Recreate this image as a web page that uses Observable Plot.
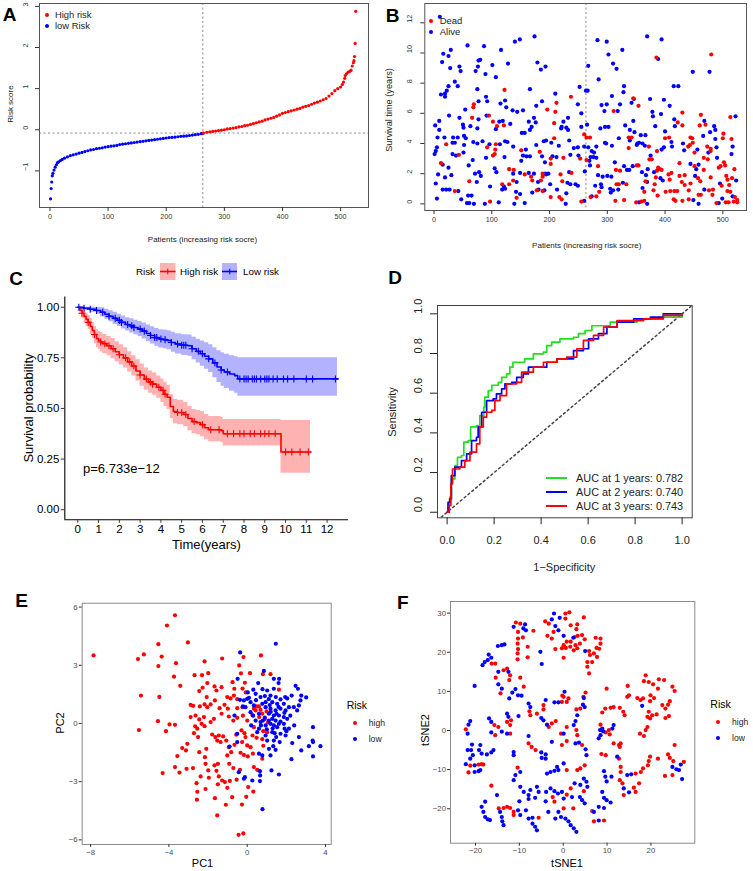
<!DOCTYPE html>
<html><head><meta charset="utf-8">
<script src="https://cdn.jsdelivr.net/npm/d3@7"></script>
<script src="https://cdn.jsdelivr.net/npm/@observablehq/plot@0.6"></script>
<style>
body{margin:0;background:#fff;}
#fig{position:relative;width:753px;height:871px;overflow:hidden;background:#fff;}
</style></head><body><div id="fig"></div>
<script>
// ---------- Panel A: risk score by patient ----------
const riskIdx = [1,2,3,4,5,7,9,11,13,15,18,21,25,30,35,40,45,50,55,60,65,70,75,80,85,90,95,100,105,110,115,120,125,130,135,140,145,150,155,160,165,170,175,180,185,190,195,200,205,210,215,220,225,230,235,240,245,250,255,260,263,
264,270,275,280,285,290,295,300,305,310,315,320,325,330,335,340,345,350,355,360,365,370,375,380,385,390,395,400,405,410,415,420,425,430,435,440,445,450,455,460,465,470,475,480,485,490,495,500,503,505,507,508,510,513,516,518,520,522,523,524,525,526];
const riskScore = [-1.68,-1.43,-1.27,-1.12,-1.06,-0.98,-0.91,-0.85,-0.80,-0.78,-0.75,-0.72,-0.69,-0.66,-0.63,-0.61,-0.59,-0.57,-0.55,-0.53,-0.51,-0.49,-0.48,-0.46,-0.45,-0.44,-0.42,-0.41,-0.40,-0.39,-0.38,-0.36,-0.35,-0.34,-0.33,-0.32,-0.31,-0.30,-0.29,-0.28,-0.27,-0.26,-0.25,-0.24,-0.23,-0.22,-0.21,-0.20,-0.19,-0.185,-0.18,-0.17,-0.16,-0.155,-0.15,-0.14,-0.13,-0.12,-0.11,-0.095,-0.085,
-0.08,-0.06,-0.05,-0.04,-0.03,-0.02,-0.01,0.00,0.02,0.03,0.04,0.05,0.07,0.08,0.10,0.11,0.13,0.15,0.17,0.19,0.21,0.24,0.26,0.28,0.30,0.33,0.36,0.40,0.42,0.44,0.46,0.48,0.50,0.52,0.55,0.57,0.59,0.62,0.65,0.67,0.70,0.73,0.76,0.82,0.88,0.95,1.00,1.04,1.10,1.16,1.25,1.32,1.36,1.40,1.42,1.45,1.55,1.63,1.68,1.78,2.10,2.88];
const cutIdx = 263, cutScore = -0.08;
const aXTicks = [0,100,200,300,400,500], aYTicks = [-1,0,1,2,3];

// ---------- Panel B: survival time by patient ([patient, years]) ----------
const bAlive = [[10,12.4],[174,11.1],[148.5,10.9],[140,10.75],[58,10.5],[86.6,10.45],[116,10.2],[29,10.2],[16,9.95],[25,9.8],[80,9.55],[77,9.5],[14,9.4],[128,9.3],[179,9.37],[101,9.2],[44,9.1],[193,9.1],[28,9.0],[76,9.1],[185,8.9],[46,8.8],[72,8.8],[89,8.6],[107,8.4],[36,8.1],[41,7.8],[25,7.8],[75,7.6],[166,7.6],[22,7.5],[19,7.3],[12,7.25],[19,7.1],[210,7.3],[252,7.75],[90,7.1],[77,6.8],[92,6.8],[123,6.85],[187,6.8],[115,6.65],[177,6.5],[54,6.25],[125,6.4],[136,6.2],[144,6.1],[154,6.2],[249,6.6],[26,5.85],[77,5.6],[91,5.85],[44,5.7],[113,5.45],[119,5.5],[132,5.3],[173,5.7],[164,5.45],[224,5.45],[232,5.7],[255,6.0],[9,5.5],[2,5.2],[9,4.9],[6,4.4],[50,5.25],[51,5.05],[63,5.15],[75,5.0],[107,4.95],[169,5.1],[166,4.9],[157,4.7],[152,4.7],[176,5.4],[221,5.1],[220,5.0],[229,5.05],[232,4.9],[255,5.1],[33,4.4],[41,4.4],[52,4.5],[55,4.35],[52,3.9],[36,4.05],[32,4.05],[18,4.4],[5,3.75],[3,3.5],[1,3.3],[68,4.1],[75,4.0],[84,4.15],[96,3.95],[114,3.95],[123,4.15],[127,4.1],[137,3.8],[159,3.6],[177,3.9],[190,4.15],[194,4.2],[203,4.05],[216,3.85],[234,4.2],[242,3.7],[249,3.75],[260,3.8],[32,3.3],[38,3.2],[51,3.4],[122,3.1],[90,3.05],[154,3.2],[160,3.15],[151,2.85],[166,3.15],[187,3.15],[192,2.75],[205,3.15],[212,3.1],[236,3.25],[250,3.2],[15,2.6],[25,2.4],[60,2.55],[67,2.9],[78,2.1],[71,2.0],[81,1.85],[105,2.35],[108,2.1],[137,2.0],[149,2.05],[164,2.05],[173,2.0],[193,2.0],[198,2.0],[234,2.1],[261,2.15],[7,1.95],[19,1.75],[30,1.9],[3,1.35],[74,1.45],[97,1.15],[121,1.15],[143,1.45],[180,1.45],[194,1.95],[201,1.3],[231,1.4],[236,1.3],[245,1.3],[249,1.2],[15,0.95],[21,0.95],[27,0.95],[42,0.85],[59,0.55],[65,0.55],[118,0.95],[123,1.0],[142,0.8],[149,0.65],[170,0.75],[181,0.95],[191,0.9],[213,0.95],[229,0.7],[5,0.35],[47,0.3],[57,0.05],[61,0.05],[69,0.0],[88,0.0],[112,0.1],[139,0.0],[157,0.05],[228,0.0],[260,0.2],
[369,11.1],[394,10.9],[283,10.85],[299,10.75],[326,10.2],[302,9.9],[388,9.6],[310,9.3],[316,8.95],[267,9.15],[448,8.75],[477,8.75],[285,8.25],[415,7.8],[423,7.8],[329,7.8],[263,7.5],[266,7.5],[328,7.4],[308,7.15],[346,6.95],[374,6.95],[398,6.9],[290,6.55],[299,6.6],[322,6.6],[342,6.7],[408,6.5],[295,6.15],[318,6.15],[378,6.1],[379,5.8],[393,5.95],[522,5.8],[416,5.6],[468,5.5],[345,5.5],[265,5.25],[331,5.2],[288,5.0],[296,5.1],[302,5.1],[383,5.15],[417,5.15],[485,5.15],[487,4.9],[339,4.9],[347,4.75],[400,4.8],[478,4.75],[320,4.35],[358,4.55],[366,4.55],[466,4.5],[487,4.3],[339,4.2],[352,4.0],[355,4.05],[361,4.0],[365,3.85],[351,3.9],[296,4.05],[298,4.0],[308,3.85],[267,3.75],[281,3.8],[398,3.75],[411,4.1],[412,3.8],[431,4.0],[456,3.6],[489,3.75],[517,3.8],[273,3.5],[277,3.4],[271,3.1],[276,3.1],[281,3.05],[394,3.6],[269,2.85],[375,3.2],[433,3.55],[475,3.4],[490,3.05],[515,3.3],[270,2.55],[313,2.75],[329,2.5],[334,2.25],[338,2.25],[344,2.5],[360,2.1],[370,2.3],[381,2.1],[458,2.6],[454,2.3],[444,2.65],[284,1.9],[292,1.8],[300,1.85],[307,1.8],[367,1.9],[392,1.7],[396,1.55],[452,1.85],[523,1.55],[327,1.4],[369,1.45],[495,1.35],[279,1.2],[289,1.3],[290,1.1],[305,1.0],[306,0.75],[310,0.9],[319,0.95],[361,1.05],[468,0.95],[517,0.5],[273,0.5],[355,0.1],[369,0.0],[449,0.25],[458,0.0],[493,0.05],[499,0.35]];
const bDead = [[122,7.55],[237,7.1],[212,6.7],[69,6.6],[68,6.4],[196,6.25],[210,6.1],[95,5.85],[66,5.7],[102,5.45],[208,5.35],[109,5.15],[121,5.2],[21,3.95],[92,3.75],[107,3.95],[151,3.55],[183,3.45],[208,4.35],[260,4.6],[264,4.4],[43,3.25],[102,3.2],[105,3.3],[106,3.6],[202,3.0],[202,2.65],[224,3.05],[253,3.0],[264,2.9],[12,2.7],[130,2.3],[138,2.25],[157,1.95],[168,1.8],[188,2.0],[219,1.95],[238,2.05],[61,1.5],[118,1.3],[130,1.3],[137,1.55],[170,1.55],[185,1.55],[188,1.8],[222,1.5],[36,0.85],[178,0.9],[188,0.85],[217,0.45],[221,0.3],[97,0.15],[143,0.4],[202,0.45],[255,0.15],
[480,9.9],[385,9.7],[345,7.0],[354,6.5],[311,6.15],[430,6.05],[462,5.9],[513,5.75],[422,5.4],[430,5.2],[460,5.2],[470,5.25],[270,4.4],[337,4.4],[342,4.4],[400,4.35],[407,4.4],[444,4.4],[447,4.35],[501,4.65],[515,4.3],[372,3.8],[440,3.8],[443,3.9],[448,4.05],[473,3.8],[479,3.65],[500,4.35],[337,3.7],[386,3.5],[373,2.95],[377,2.95],[451,3.4],[467,3.05],[479,3.5],[284,2.5],[351,2.55],[354,2.55],[322,2.2],[315,2.25],[388,2.4],[391,2.3],[394,2.25],[386,2.2],[425,2.7],[451,2.5],[474,2.95],[502,2.75],[504,2.55],[493,2.4],[496,2.5],[520,2.3],[467,2.25],[384,1.75],[406,1.95],[411,2.05],[408,1.6],[425,1.85],[434,1.9],[457,1.7],[461,1.5],[479,1.75],[506,1.85],[508,1.6],[516,1.7],[316,1.3],[320,1.3],[333,1.3],[366,1.5],[382,1.3],[429,1.45],[434,1.25],[444,1.35],[498,1.2],[511,1.25],[364,0.8],[380,0.9],[401,0.8],[409,0.85],[416,0.85],[421,0.85],[441,0.9],[458,0.6],[462,0.6],[476,0.9],[483,0.95],[482,0.6],[508,0.85],[513,0.8],[521,0.45],[286,0.8],[271,0.45],[281,0.5],[314,0.2],[329,0.25],[350,0.1],[359,0.15],[364,0.2],[387,0.55],[430,0.2],[415,0.3],[418,0.2],[441,0.3],[489,0.05],[505,0.1],[510,0.1],[519,0.15],[525,0.1],[525,0.25]];
const bXTicks = [0,100,200,300,400,500], bYTicks = [0,2,4,6,8,10,12];

// ---------- Panel C: Kaplan-Meier ----------
const kmHighT  = [0,0.1,0.2,0.3,0.4,0.5,0.6,0.7,0.8,0.9,1.0,1.1,1.2,1.4,1.6,1.8,2.0,2.2,2.4,2.6,2.8,3.0,3.2,3.4,3.6,3.8,4.0,4.15,4.3,4.45,4.6,4.8,5.1,5.3,5.5,5.7,5.9,6.1,6.3,6.9,7.0,9.78,11.2];
const kmHighS  = [1,0.985,0.97,0.955,0.94,0.925,0.905,0.885,0.865,0.845,0.835,0.828,0.82,0.81,0.795,0.78,0.765,0.75,0.73,0.71,0.685,0.665,0.645,0.63,0.62,0.605,0.59,0.57,0.555,0.51,0.485,0.48,0.47,0.45,0.435,0.43,0.42,0.405,0.395,0.39,0.375,0.285,0.285];
const kmHighLo = [1,0.965,0.945,0.925,0.905,0.89,0.865,0.845,0.82,0.80,0.79,0.78,0.77,0.76,0.745,0.73,0.715,0.70,0.68,0.66,0.635,0.61,0.59,0.575,0.565,0.55,0.53,0.51,0.495,0.45,0.425,0.42,0.41,0.39,0.375,0.37,0.36,0.345,0.335,0.33,0.315,0.18,0.18];
const kmHighHi = [1,1.0,0.99,0.98,0.97,0.96,0.945,0.925,0.905,0.89,0.88,0.875,0.865,0.855,0.845,0.83,0.815,0.80,0.78,0.76,0.74,0.72,0.70,0.685,0.675,0.66,0.645,0.63,0.615,0.57,0.545,0.54,0.53,0.51,0.495,0.49,0.485,0.47,0.46,0.455,0.445,0.44,0.44];
const kmLowT  = [0,0.3,0.6,0.9,1.1,1.3,1.5,1.7,1.9,2.1,2.3,2.5,2.7,2.9,3.1,3.3,3.5,3.7,3.9,4.1,4.3,4.5,4.7,5.0,5.3,5.5,5.7,5.9,6.1,6.3,6.5,6.7,6.9,7.05,7.3,7.55,7.7,12.5];
const kmLowS  = [1,0.995,0.99,0.984,0.975,0.965,0.955,0.945,0.935,0.925,0.915,0.908,0.9,0.892,0.882,0.87,0.86,0.85,0.843,0.84,0.836,0.826,0.818,0.812,0.81,0.795,0.782,0.77,0.758,0.745,0.725,0.705,0.69,0.68,0.67,0.662,0.646,0.646];
const kmLowLo = [1,0.985,0.975,0.965,0.952,0.94,0.928,0.915,0.905,0.893,0.882,0.873,0.864,0.855,0.843,0.83,0.818,0.807,0.799,0.795,0.79,0.778,0.769,0.762,0.758,0.74,0.724,0.709,0.694,0.677,0.652,0.628,0.61,0.598,0.585,0.575,0.56,0.56];
const kmLowHi = [1,1.0,1.0,1.0,0.997,0.99,0.982,0.975,0.965,0.957,0.948,0.943,0.936,0.93,0.922,0.912,0.903,0.895,0.889,0.887,0.884,0.876,0.869,0.864,0.863,0.852,0.842,0.833,0.824,0.815,0.80,0.785,0.775,0.768,0.76,0.755,0.75,0.75];
const censHigh = [0.2,0.5,0.8,1.1,1.3,1.5,1.7,2.0,2.3,2.5,2.7,3.0,3.3,3.5,3.6,3.9,4.1,4.2,4.8,5.0,5.2,5.6,6.0,6.4,6.8,7.2,7.5,7.8,8.0,8.3,8.5,8.8,9.0,9.2,9.5,10.0,10.3,10.7,11.1];
const censLow = [0.05,0.3,0.6,0.9,1.2,1.5,1.8,2.0,2.1,2.4,2.6,2.7,3.0,3.2,3.5,3.7,3.8,4.0,4.2,4.5,4.8,5.0,5.1,5.2,5.5,5.8,6.0,6.3,6.6,6.9,7.2,7.8,8.0,8.1,8.2,8.4,8.5,8.6,8.8,9.0,9.1,9.2,9.4,9.6,9.9,10.1,10.4,11.0,11.3,12.4];
const cXTicks = [0,1,2,3,4,5,6,7,8,9,10,11,12], cYTicks = [0,0.25,0.5,0.75,1];
const pText = "p=6.733e\u221212", pAt = [0.25, 0.2];

// ---------- Panel D: time-dependent ROC ([1-specificity, sensitivity]) ----------
const roc1 = [[0,0],[0.004,0.04],[0.011,0.076],[0.018,0.168],[0.033,0.235],[0.044,0.277],[0.061,0.286],[0.071,0.353],[0.09,0.361],[0.1,0.43],[0.125,0.437],[0.139,0.487],[0.156,0.53],[0.16,0.58],[0.175,0.613],[0.19,0.64],[0.218,0.655],[0.232,0.68],[0.253,0.697],[0.267,0.731],[0.28,0.756],[0.33,0.773],[0.367,0.798],[0.41,0.807],[0.424,0.84],[0.445,0.857],[0.48,0.874],[0.538,0.882],[0.559,0.9],[0.587,0.916],[0.616,0.94],[0.666,0.94],[0.694,0.958],[0.78,0.958],[0.808,0.975],[0.92,0.983],[1,1]];
const roc2 = [[0,0],[0.004,0.05],[0.011,0.067],[0.018,0.185],[0.033,0.227],[0.061,0.26],[0.083,0.294],[0.104,0.361],[0.125,0.378],[0.132,0.43],[0.147,0.504],[0.168,0.563],[0.196,0.571],[0.21,0.597],[0.232,0.622],[0.246,0.647],[0.275,0.655],[0.296,0.68],[0.324,0.697],[0.346,0.731],[0.381,0.731],[0.424,0.756],[0.467,0.773],[0.509,0.773],[0.538,0.815],[0.58,0.824],[0.602,0.874],[0.644,0.9],[0.68,0.933],[0.723,0.958],[0.794,0.975],[0.865,0.983],[0.92,1],[1,1]];
const roc3 = [[0,0],[0.009,0.034],[0.016,0.143],[0.023,0.218],[0.054,0.227],[0.075,0.26],[0.097,0.303],[0.125,0.345],[0.139,0.43],[0.154,0.479],[0.168,0.504],[0.19,0.513],[0.203,0.563],[0.225,0.588],[0.253,0.647],[0.296,0.655],[0.317,0.706],[0.367,0.731],[0.41,0.756],[0.467,0.773],[0.509,0.782],[0.552,0.824],[0.58,0.866],[0.623,0.891],[0.666,0.933],[0.723,0.966],[0.836,0.975],[0.92,0.992],[1,1]];
const rocLabels = ["AUC at 1 years: 0.782","AUC at 2 years: 0.740","AUC at 3 years: 0.743"];
const dTicks = [0,0.2,0.4,0.6,0.8,1.0];

// ---------- Panel E: PCA ([PC1, PC2]) ----------
const pcaHigh = [[-3.69,5.58],[-4.10,5.05],[-4.54,4.09],[-3.03,4.18],[-7.85,3.51],[-5.58,3.32],[-5.28,3.56],[-4.37,3.45],[-3.64,3.11],[-4.54,2.96],[-3.74,2.41],[-3.42,1.94],[-5.43,1.44],[-4.49,1.37],[-2.18,3.20],[-1.28,3.35],[-0.19,3.42],[0.70,3.51],[-0.41,2.99],[-2.69,2.49],[-2.31,2.49],[-1.99,2.59],[-0.32,2.58],[0.14,2.59],[0.80,2.54],[1.19,2.54],[-2.04,2.08],[-2.45,1.67],[-2.28,1.84],[-1.67,1.91],[-1.57,1.70],[-1.31,1.87],[-0.75,2.13],[-0.66,1.79],[-0.24,1.80],[-0.12,2.10],[-0.07,1.60],[1.62,1.74],[-2.07,1.36],[-1.65,1.19],[-1.02,1.36],[-0.85,1.29],[-0.68,1.44],[-0.51,1.25],[-2.89,0.96],[-2.76,0.91],[-2.42,0.88],[-2.18,0.98],[-2.04,0.84],[-1.87,0.98],[-1.41,0.79],[-1.16,0.96],[-0.99,0.76],[-0.51,0.79],[-0.24,0.84],[0.34,0.76],[0.48,0.88],[0.68,0.70],[0.99,0.62],[-2.89,0.33],[-2.64,0.41],[-2.45,0.21],[-2.33,-0.02],[-2.21,0.33],[-2.66,-0.15],[-2.55,-0.27],[-2.18,-0.14],[-1.87,0.07],[-1.70,0.24],[-1.31,0.50],[-0.94,0.36],[-0.71,0.15],[-0.51,0.29],[-0.22,0.40],[0.00,0.15],[0.26,0.43],[0.61,0.33],[0.89,0.22],[-4.56,0.12],[-3.97,-0.05],[-3.69,-0.07],[-5.53,-0.34],[-4.15,-0.40],[-2.72,-0.50],[-2.51,-0.70],[-1.79,-0.57],[-1.63,-0.70],[-1.45,-0.62],[-1.23,-0.67],[-1.53,-0.88],[-1.36,-0.96],[-1.07,-0.88],[-0.56,-0.58],[-0.29,-0.36],[-0.14,-0.50],[0.27,-0.62],[0.48,-0.74],[0.77,-0.81],[-3.06,-1.05],[-3.32,-1.27],[-3.13,-1.39],[-2.45,-1.48],[-2.09,-1.31],[-0.94,-1.22],[-0.65,-1.10],[-0.26,-0.96],[0.00,-1.13],[0.17,-1.22],[0.82,-1.15],[-3.57,-1.68],[-2.16,-1.74],[-1.02,-1.65],[-0.82,-1.48],[-0.34,-1.51],[-0.17,-1.62],[0.03,-1.70],[0.29,-1.56],[0.77,-1.82],[-2.13,-2.08],[-2.77,-2.30],[-3.10,-2.34],[-3.69,-2.25],[-3.46,-2.53],[-4.32,-2.56],[-1.67,-2.16],[-1.57,-2.44],[-1.50,-2.08],[-0.92,-2.08],[-0.71,-2.30],[-0.37,-2.39],[0.34,-2.25],[0.51,-2.39],[-1.99,-2.42],[-2.38,-2.73],[-1.96,-2.80],[-1.45,-2.73],[-1.28,-2.94],[-1.14,-3.02],[-0.89,-2.96],[-0.54,-2.90],[-2.59,-3.08],[-1.50,-3.14],[-1.02,-3.32],[0.05,-3.28],[0.31,-3.51],[-2.55,-3.52],[-2.13,-3.38],[-0.77,-3.80],[-0.05,-3.78],[-2.57,-3.93],[-1.65,-3.85],[-1.09,-4.19],[-0.27,-4.18],[-1.53,-4.74],[-0.44,-5.74],[-0.20,-5.67],[0.43,0.67],[0.60,0.88],[0.77,0.50],[1.06,0.05],[0.34,-0.19],[0.82,-0.40],[1.02,-0.45],[-0.09,-0.70]];
const pcaLow = [[1.46,4.11],[-0.36,3.66],[0.85,2.71],[1.36,2.30],[-0.49,2.30],[1.63,2.30],[1.60,2.08],[0.56,2.08],[0.78,1.77],[1.02,1.70],[1.36,1.79],[0.31,1.74],[0.03,1.60],[2.47,1.94],[2.59,1.79],[2.27,1.44],[2.76,1.44],[3.01,1.34],[2.72,1.19],[1.94,1.36],[1.70,1.24],[1.46,1.36],[1.19,1.44],[0.90,1.41],[0.68,1.36],[0.43,1.53],[0.00,1.27],[-0.17,1.19],[-0.37,1.22],[0.17,1.10],[0.94,1.10],[1.28,1.10],[1.53,1.01],[1.87,1.01],[2.13,0.84],[2.38,0.84],[2.64,0.93],[2.55,0.67],[1.96,0.67],[1.70,0.76],[1.45,0.67],[1.19,0.76],[0.94,0.84],[0.77,1.01],[0.34,0.93],[-0.09,0.84],[-0.65,0.41],[0.17,0.58],[1.11,0.50],[1.36,0.41],[1.62,0.41],[1.87,0.33],[2.04,0.24],[1.28,0.24],[1.45,0.15],[1.11,0.15],[1.19,-0.02],[1.36,-0.10],[1.62,-0.02],[1.87,-0.02],[1.53,-0.19],[1.91,-0.27],[2.13,-0.27],[0.68,0.07],[0.43,0.15],[0.94,-0.10],[0.60,-0.27],[0.51,-0.45],[1.28,-0.45],[1.70,-0.53],[1.96,-0.62],[1.48,-0.70],[0.94,-0.62],[1.02,-0.88],[1.36,-0.88],[1.66,-0.96],[1.33,-1.17],[1.11,-1.31],[1.45,-1.36],[2.64,-0.70],[2.30,-1.01],[3.36,-0.19],[3.34,-0.88],[3.15,-1.17],[3.74,-1.17],[3.36,-0.96],[2.76,-1.39],[3.36,-1.70],[2.26,-1.84],[1.19,-1.65],[0.77,-1.65],[0.60,-1.56],[-0.51,-0.53],[-0.90,-1.19],[-0.51,-0.96],[0.65,-2.46],[1.24,-2.42],[0.66,-2.68],[-0.43,-2.51],[-0.12,-2.77],[0.26,-2.94],[0.65,-2.97],[1.62,-2.63],[-0.17,-2.85],[0.78,-4.42],[-0.22,0.88],[0.09,1.32],[2.04,1.29],[0.3,0.4],[0.6,0.5],[0.9,0.3],[1.2,0.6],[1.5,0.5],[1.7,0.1],[1.0,-0.3],[1.3,-0.25],[0.7,-0.1],[1.9,0.55],[2.2,0.4],[2.4,-0.1],[0.2,-0.1],[0.45,1.2],[1.1,1.25],[1.6,0.85],[0.8,0.15],[1.4,-0.5],[2.0,-0.4],[1.15,0.95]];
const eXTicks = [-8,-4,0,4], eYTicks = [-6,-3,0,3,6];

// ---------- Panel F: t-SNE ([tSNE1, tSNE2]) ----------
const tsneHigh = [[-4.1,27.9],[-3.3,27.3],[0.5,29.9],[1.4,30.2],[0.5,28.6],[-2.2,25.2],[-3.6,24.2],[-2.6,23.5],[0.8,22.7],[0.1,21.8],[0.6,21.1],[-0.3,21.0],[-1.8,20.8],[0.1,18.6],[1.6,21.4],[-10.8,27.6],[-9.8,27.3],[-10.3,25.2],[-9.2,23.8],[-10.3,23.5],[-6.8,25.5],[-10.4,22.2],[-8.1,21.4],[-10.3,20.8],[-10.4,19.7],[-8.1,18.7],[-10.4,18.2],[-16.3,17.1],[-15.5,17.1],[-13.6,15.4],[-12.8,15.8],[-12.1,14.1],[-12.3,12.9],[-15.4,13.5],[-14.3,9.5],[-9.8,13.5],[-9.0,11.2],[-7.7,4.9],[-7.5,3.9],[-6.0,4.3],[-4.5,6.5],[-4.5,5.4],[0.1,8.6],[-0.3,7.3],[0.8,7.3],[1.2,8.2],[-0.2,8.9],[-12.8,2.2],[-11.9,2.6],[-12.1,1.4],[-14.8,0.9],[-15.7,1.4],[-15.5,-1.2],[-12.1,-0.8],[-3.3,0.9],[-2.6,1.8],[-1.7,2.4],[0.8,0.9],[-0.5,-0.8],[-22.2,0.3],[-7.9,-3.3],[-7.2,-4.2],[-6.3,-5.0],[-0.3,-3.7],[0.8,-2.7],[-21.2,-9.0],[-19.3,-8.7],[-18.6,-8.6],[-18.2,-8.7],[-21.6,-10.7],[-10.4,-9.5],[-16.4,-14.1],[0.8,-10.1],[-2.4,-17.0],[-2.0,-18.2],[0.8,-16.4],[0.1,-19.9],[-14.7,-19.9],[-13.6,-19.8],[-12.8,-19.5],[-12.1,-19.8],[-11.3,-20.8],[-11.3,-21.6],[-5.6,-22.3],
[4.7,28.9],[3.2,27.1],[3.0,25.9],[1.7,26.9],[2.6,23.9],[3.3,24.2],[4.3,24.4],[4.9,23.3],[1.7,22.7],[2.8,21.8],[2.4,20.5],[3.2,21.0],[3.8,22.2],[5.9,20.3],[6.1,19.3],[7.0,19.7],[7.6,21.1],[7.4,23.7],[8.5,23.5],[8.5,22.2],[8.2,20.9],[7.7,18.8],[6.6,17.5],[5.5,17.5],[5.5,16.3],[5.9,14.6],[9.9,10.7],[14.7,11.4],[15.0,9.0],[14.6,8.6],[18.8,14.1],[18.4,12.6],[19.5,12.4],[20.5,11.8],[21.6,10.7],[21.8,13.1],[23.0,12.9],[24.9,11.2],[25.4,10.1],[19.9,9.0],[20.7,8.3],[19.8,7.5],[16.9,8.3],[17.6,7.8],[18.2,8.2],[19.5,4.8],[20.3,3.9],[19.2,3.5],[19.8,3.1],[21.3,4.1],[22.6,6.5],[23.9,6.6],[24.3,7.5],[23.3,5.6],[24.1,3.7],[23.3,3.2],[19.2,0.9],[18.8,0.1],[17.5,-0.8],[18.4,-1.4],[12.9,5.8],[13.7,4.8],[14.0,3.9],[11.5,6.0],[10.8,5.8],[9.6,5.6],[8.9,4.6],[8.5,1.5],[9.7,-0.5],[10.4,0.1],[10.6,-1.0],[11.5,-3.3],[12.7,-3.7],[13.1,-3.3],[12.9,-4.2],[8.7,-6.0],[9.7,-6.3],[12.7,-7.2],[13.1,-9.3],[13.1,-10.6],[12.9,-12.7],[13.5,-13.5],[13.8,-16.5],[16.5,-11.0],[17.3,-13.5],[16.1,-14.6],[16.5,-15.7],[17.7,-10.6],[18.2,-9.7],[19.3,-8.9],[19.5,-7.8],[19.8,-6.7],[21.6,-7.2],[23.9,-6.1],[24.3,-7.0],[25.1,-7.8],[25.4,-3.7],[27.5,-8.0],[23.2,-11.6],[24.9,-11.4],[4.7,-15.5],[1.7,-14.8],[2.3,-19.9],[6.6,-20.6],[7.0,-23.2],[9.3,-23.0],[3.2,-10.1],[3.9,-9.7],[4.9,-8.9],[3.0,0.1],[3.2,-1.2],[4.3,-3.7],[3.9,5.6],[3.0,5.4],[5.1,9.7],[4.6,8.6]];
const tsneLow = [[-2.1,29.9],[-0.8,28.8],[-2.6,28.4],[-1.8,26.7],[-1.1,25.6],[0.1,24.2],[-8.7,27.1],[-11.3,26.5],[-9.1,26.1],[-8.5,25.6],[-5.2,20.1],[-4.9,17.0],[-14.9,21.6],[-14.0,21.8],[-13.4,22.0],[-17.0,19.4],[-16.4,18.6],[-17.2,18.0],[-17.9,17.5],[-18.4,16.7],[-14.8,15.0],[-12.5,15.0],[-14.8,11.8],[-14.0,10.7],[-10.9,10.6],[-11.6,9.7],[-12.3,8.2],[-10.3,9.0],[-9.5,8.9],[-20.2,11.4],[-7.9,6.9],[-7.5,6.0],[-4.0,7.8],[-2.0,7.2],[-1.1,7.2],[0.3,9.9],[-12.8,4.3],[-12.5,3.5],[-16.4,2.2],[-16.9,3.1],[-16.4,-0.5],[-14.0,-0.3],[-12.8,-0.8],[-10.2,3.7],[-5.0,3.2],[-4.5,2.6],[-3.7,1.5],[0.1,-0.8],[-21.6,1.5],[-21.2,2.4],[-21.8,-0.8],[-7.9,-1.4],[-5.0,-5.6],[-4.0,-6.1],[-4.0,-7.2],[-4.9,-7.0],[-2.6,-2.9],[-11.3,-5.5],[-11.3,-6.3],[-20.8,-3.6],[-21.8,-5.0],[-21.0,-5.0],[-20.6,-6.3],[-21.2,-7.2],[-18.9,-3.7],[-19.2,-5.0],[-18.6,-5.9],[-17.4,-6.1],[-16.4,-5.6],[-15.9,-5.0],[-22.2,-8.6],[-20.2,-8.9],[-20.2,-10.6],[-19.3,-10.4],[-18.9,-10.1],[-9.8,-10.6],[-10.9,-11.4],[-11.3,-12.7],[-15.1,-16.5],[-9.8,-14.4],[-9.0,-15.7],[-7.9,-16.5],[-7.9,-17.5],[-7.5,-15.2],[-6.0,-14.4],[-5.6,-15.7],[-6.4,-17.2],[-3.7,-11.0],[-2.9,-10.6],[-2.0,-10.3],[-1.1,-10.1],[-1.4,-9.3],[0.1,-8.4],[-4.0,-18.1],[-3.9,-15.7],[-2.9,-14.8],[-2.0,-15.5],[-1.2,-16.1],[-0.3,-15.7],[0.1,-17.4],[-1.1,-20.8],[-0.5,-22.1],[-1.8,-22.5],[0.5,-22.5],[1.2,-23.2],[-3.4,-20.8],[-10.3,-20.4],[-10.0,-18.1],[-9.8,-21.6],[-8.5,-20.4],[-7.9,-22.5],[-7.0,-22.3],[-7.0,-23.8],[-6.4,-24.6],[-6.0,-25.5],[-14.4,-20.8],[-14.0,-22.1],[-13.9,-23.2],[-13.6,-24.2],[-18.6,-19.5],[-18.2,-20.8],[-17.8,-22.1],[-17.2,-22.7],[-16.7,-22.9],[-17.8,-18.2],
[2.3,23.7],[5.0,20.3],[18.0,6.3],[8.4,0.1],[8.9,0.5],[8.5,-1.2],[8.1,-2.0],[11.2,0.5],[12.3,-6.7],[15.0,-15.8],[14.6,-11.4],[15.5,-11.2],[26.8,-8.7],[25.8,-9.9],[26.4,-10.1],[27.1,-12.4],[24.9,-9.3],[9.3,-10.4],[9.6,-11.8],[9.9,-13.0],[11.0,-11.8],[4.7,-12.3],[5.3,-13.1],[5.5,-14.4],[3.9,-13.9],[2.6,-13.5],[3.8,-17.0],[4.3,-17.8],[4.9,-18.6],[2.0,-17.0],[8.9,-15.7],[9.3,-17.2],[9.9,-17.8],[10.8,-18.4],[9.3,-19.8],[8.1,-19.5],[7.0,-20.8],[8.1,-23.0],[1.7,-24.2],[2.4,-25.0],[3.0,-25.9],[13.8,-14.8],[3.2,3.9],[2.8,2.4],[2.4,1.4],[2.8,-3.3],[3.6,-3.1],[5.1,-4.8],[5.3,-6.3],[4.7,8.3],[4.5,6.6],[4.9,6.0],[11.5,1.4],[9.1,-0.2]];
const fXTicks = [-20,-10,0,10,20], fYTicks = [-20,-10,0,10,20,30];

// ---------- drawing ----------
const RED = "#FF0000", BLUE = "#0000FF", GREEN = "#1FE01F";
const FONT = '"Liberation Sans", Arial, Helvetica, sans-serif';
const fig = document.getElementById("fig");
const minus = d => (d < 0 ? "\u2212" + Math.abs(d) : String(d));

function place(svg, left, top) {
  svg.style.position = "absolute"; svg.style.left = left + "px"; svg.style.top = top + "px";
  svg.style.overflow = "visible"; fig.appendChild(svg);
}
function txt(text, x, y, o = {}) {
  const d = document.createElement("div");
  d.textContent = text;
  const start = o.anchor === "start";
  d.style.cssText = `position:absolute;left:${x}px;top:${y}px;white-space:nowrap;font-family:${FONT};` +
    `font-size:${o.size || 10}px;font-weight:${o.weight || "normal"};color:${o.color || "#000"};line-height:1;` +
    `transform:translate(${start ? "0" : "-50%"},-50%) rotate(${o.rotate || 0}deg);transform-origin:${start ? "left center" : "center"};`;
  fig.appendChild(d);
}
function dotKey(x, y, color, r = 2.2) {
  const d = document.createElement("div");
  d.style.cssText = `position:absolute;left:${x - r}px;top:${y - r}px;width:${2 * r}px;height:${2 * r}px;border-radius:50%;background:${color};`;
  fig.appendChild(d);
}
function lineKey(x, y, w, color) {
  const d = document.createElement("div");
  d.style.cssText = `position:absolute;left:${x}px;top:${y - 1}px;width:${w}px;height:2px;background:${color};`;
  fig.appendChild(d);
}
const baseStyle = (fs, color) => ({fontFamily: FONT, fontSize: fs + "px", color, background: "transparent", overflow: "visible"});

// Panel A
const aData = riskIdx.map((i, k) => ({i, s: riskScore[k]}));
place(Plot.plot({
  width: 376, height: 230, marginLeft: 39, marginRight: 8, marginTop: 3, marginBottom: 23,
  x: {domain: [-18, 548], label: null}, y: {domain: [-1.89, 3.07], label: null},
  style: baseStyle(7.2, "#333"),
  marks: [
    Plot.ruleY([cutScore], {stroke: "#888", strokeDasharray: "2,2.5"}),
    Plot.ruleX([cutIdx], {stroke: "#888", strokeDasharray: "2,2.5"}),
    Plot.dot(aData, {x: "i", y: "s", r: 1.6, fill: d => (d.i > cutIdx ? RED : BLUE)}),
    Plot.frame({stroke: "#555"}),
    Plot.axisX({ticks: aXTicks, tickSize: 4, tickPadding: 2, label: null, tickFormat: minus}),
    Plot.axisY({ticks: aYTicks, tickSize: 4, tickFormat: () => "", label: null}),
    Plot.text(aYTicks, {y: d => d, text: minus, frameAnchor: "left", dx: -14, rotate: -90, fontSize: 7.2, fill: "#333"})
  ]
}), 0, 0);
txt("A", 9.5, 13.5, {size: 19, weight: "bold"});
txt("Risk score", 11, 104, {size: 8, rotate: -90, color: "#222"});
txt("Patients (increasing risk socre)", 202.5, 240, {size: 8, color: "#222"});
dotKey(46.7, 14.7, RED); txt("High risk", 55, 14.7, {size: 9.4, anchor: "start", color: "#222"});
dotKey(46.7, 26, BLUE); txt("low Risk", 55, 26, {size: 9.4, anchor: "start", color: "#222"});

// Panel B
const bData = bAlive.map(([i, t]) => ({i, t, c: BLUE})).concat(bDead.map(([i, t]) => ({i, t, c: RED})));
place(Plot.plot({
  width: 377, height: 235, marginLeft: 48.3, marginRight: 7, marginTop: 3, marginBottom: 25,
  x: {domain: [-16, 541], label: null}, y: {domain: [-0.44, 13.28], label: null},
  style: baseStyle(7.2, "#333"),
  marks: [
    Plot.ruleX([cutIdx], {stroke: "#888", strokeDasharray: "2,2.5"}),
    Plot.dot(bData, {x: "i", y: "t", r: 2.1, fill: "c"}),
    Plot.frame({stroke: "#555"}),
    Plot.axisX({ticks: bXTicks, tickSize: 4, tickPadding: 2.5, label: null}),
    Plot.axisY({ticks: bYTicks, tickSize: 4, tickFormat: () => "", label: null}),
    Plot.text(bYTicks, {y: d => d, text: minus, frameAnchor: "left", dx: -15, rotate: -90, fontSize: 7.2, fill: "#333"})
  ]
}), 376, 0);
txt("B", 392.7, 14.5, {size: 19, weight: "bold"});
txt("Survival time (years)", 389.5, 110, {size: 9.2, rotate: -90, color: "#222"});
txt("Patients (increasing risk socre)", 586.8, 245.5, {size: 8, color: "#222"});
dotKey(430.7, 20.7, RED); txt("Dead", 439.7, 20.7, {size: 9.5, anchor: "start", color: "#222"});
dotKey(430.7, 32.3, BLUE); txt("Alive", 439.7, 32.3, {size: 9.5, anchor: "start", color: "#222"});

// Panel C
const kmH = kmHighT.map((t, k) => ({t, s: kmHighS[k], lo: kmHighLo[k], hi: kmHighHi[k]}));
const kmL = kmLowT.map((t, k) => ({t, s: kmLowS[k], lo: kmLowLo[k], hi: kmLowHi[k]}));
const survAt = (km, t) => { let s = km[0].s; for (const d of km) if (d.t <= t) s = d.s; return s; };
const cenH = censHigh.map(t => ({t, s: survAt(kmH, t)}));
const cenL = censLow.map(t => ({t, s: survAt(kmL, t)}));
const cX = [-0.626, 13.03], cY = [-0.05, 1.05];
place(Plot.plot({
  width: 376, height: 270, marginLeft: 64.3, marginRight: 28, marginTop: 6.6, marginBottom: 40.7,
  x: {domain: cX, label: null}, y: {domain: cY, label: null},
  style: baseStyle(11.5, "#000"),
  marks: [
    Plot.areaY(kmL, {x: "t", y1: "lo", y2: "hi", curve: "step-after", fill: BLUE, fillOpacity: 0.3}),
    Plot.areaY(kmH, {x: "t", y1: "lo", y2: "hi", curve: "step-after", fill: RED, fillOpacity: 0.3}),
    Plot.line(kmL, {x: "t", y: "s", curve: "step-after", stroke: BLUE, strokeWidth: 1.6}),
    Plot.line(kmH, {x: "t", y: "s", curve: "step-after", stroke: RED, strokeWidth: 1.6}),
    Plot.dot(cenL, {x: "t", y: "s", symbol: "plus", r: 2.4, stroke: BLUE, strokeWidth: 1.1}),
    Plot.dot(cenH, {x: "t", y: "s", symbol: "plus", r: 2.4, stroke: RED, strokeWidth: 1.1}),
    Plot.ruleX([cX[0]], {stroke: "#000", strokeWidth: 1.1}),
    Plot.ruleY([cY[0]], {stroke: "#000", strokeWidth: 1.1}),
    Plot.axisX({ticks: cXTicks, tickSize: 3.5, tickPadding: 1.5, label: null, stroke: "#333", fontSize: 11.5, fill: "#000"}),
    Plot.axisY({ticks: cYTicks, tickSize: 3.5, tickPadding: 2, label: null, tickFormat: d3.format(".2f"), stroke: "#333", fontSize: 11.5, fill: "#000"}),
    Plot.text([pText], {x: () => pAt[0], y: () => pAt[1], text: d => d, textAnchor: "start", fontSize: 13, fill: "#000"})
  ]
}), 0, 290);
txt("C", 16, 278, {size: 19, weight: "bold"});
txt("Survival probability", 27.5, 408, {size: 13, rotate: -90});
txt("Time(years)", 206.5, 544, {size: 13});
txt("Risk", 145.5, 271.7, {size: 9.8});
(function legendC() {
  const keys = [[160, RED, "High risk", 180], [221.7, BLUE, "Low risk", 243]];
  for (const [x, col, lab, tx] of keys) {
    const box = document.createElement("div");
    box.style.cssText = `position:absolute;left:${x}px;top:263px;width:15.5px;height:17px;`;
    box.innerHTML = `<svg width="15.5" height="17"><rect width="15.5" height="17" fill="${col}" fill-opacity="0.3"/>` +
      `<line x1="0" x2="15.5" y1="8.5" y2="8.5" stroke="${col}" stroke-width="1.6"/>` +
      `<line x1="7.75" x2="7.75" y1="5.7" y2="11.3" stroke="${col}" stroke-width="1.1"/></svg>`;
    fig.appendChild(box);
    txt(lab, tx, 271.7, {size: 9.8, anchor: "start"});
  }
})();

// Panel D
const dX = [-0.041, 1.043], dY = [-0.028, 1.042];
const rocData = [[roc1, GREEN], [roc2, BLUE], [roc3, RED]];
place(Plot.plot({
  width: 377, height: 290, marginLeft: 61, marginRight: 61.3, marginTop: 15, marginBottom: 62.7,
  x: {domain: dX, label: null}, y: {domain: dY, label: null},
  style: baseStyle(11, "#222"),
  marks: [
    Plot.line([dX[0], dX[1]], {x: d => d, y: d => d, stroke: "#444", strokeDasharray: "2,3", clip: true}),
    ...rocData.map(([r, col]) => Plot.line(r, {x: d => d[0], y: d => d[1], curve: "step-after", stroke: col, strokeWidth: 1.7})),
    Plot.frame({stroke: "#444"}),
    Plot.axisX({ticks: dTicks, tickSize: 7, tickPadding: 11, label: null, tickFormat: d3.format(".1f")}),
    Plot.axisY({ticks: dTicks, tickSize: 7, tickFormat: () => "", label: null}),
    Plot.text(dTicks, {y: d => d, text: d3.format(".1f"), frameAnchor: "left", dx: -19.3, rotate: -90, fontSize: 11, fill: "#222"})
  ]
}), 376, 290);
txt("D", 395, 276.5, {size: 19, weight: "bold"});
txt("Sensitivity", 391.8, 411.7, {size: 11, rotate: -90, color: "#222"});
txt("1\u2212Specificity", 564.3, 566.7, {size: 11, color: "#222"});
rocData.forEach(([r, col], k) => {
  const y = [478.3, 492.3, 506][k];
  lineKey(546, y, 20.7, col);
  txt(rocLabels[k], 576, y, {size: 10.9, anchor: "start", color: "#222"});
});

// Panel E
const eData = pcaHigh.map(([x, y]) => ({x, y, c: RED})).concat(pcaLow.map(([x, y]) => ({x, y, c: BLUE})));
place(Plot.plot({
  width: 376, height: 281, marginLeft: 81.7, marginRight: 45.3, marginTop: 12.7, marginBottom: 27,
  x: {domain: [-8.43, 4.29], label: null}, y: {domain: [-6.24, 6.2], label: null},
  style: baseStyle(7.8, "#4d4d4d"),
  marks: [
    Plot.dot(eData, {x: "x", y: "y", r: 2.1, fill: "c"}),
    Plot.frame({stroke: "#8a8a8a"}),
    Plot.axisX({ticks: eXTicks, tickSize: 3, tickPadding: 1.5, label: null, stroke: "#333"}),
    Plot.axisY({ticks: eYTicks, tickSize: 3, tickPadding: 1.5, label: null, stroke: "#333"})
  ]
}), 0, 590);
txt("E", 21.7, 599.7, {size: 19, weight: "bold"});
txt("PC1", 202.5, 863.3, {size: 11});
txt("PC2", 60, 723, {size: 11, rotate: -90});
txt("Risk", 346.7, 705, {size: 10.5, anchor: "start"});
dotKey(355, 723.3, RED); txt("high", 368.7, 723.3, {size: 8.6, anchor: "start", color: "#222"});
dotKey(355, 739.3, BLUE); txt("low", 368.7, 739.3, {size: 8.6, anchor: "start", color: "#222"});

// Panel F
const fData = tsneHigh.map(([x, y]) => ({x, y, c: RED})).concat(tsneLow.map(([x, y]) => ({x, y, c: BLUE})));
place(Plot.plot({
  width: 377, height: 281, marginLeft: 74, marginRight: 58.7, marginTop: 11, marginBottom: 28.3,
  x: {domain: [-25.7, 30.0], label: null}, y: {domain: [-28.8, 32.97], label: null},
  style: baseStyle(7.8, "#4d4d4d"),
  marks: [
    Plot.dot(fData, {x: "x", y: "y", r: 2.1, fill: "c"}),
    Plot.frame({stroke: "#8a8a8a"}),
    Plot.axisX({ticks: fXTicks, tickSize: 3, tickPadding: 1.5, label: null, stroke: "#333"}),
    Plot.axisY({ticks: fYTicks, tickSize: 3, tickPadding: 1.5, label: null, stroke: "#333"})
  ]
}), 376, 590);
txt("F", 402.7, 602, {size: 19, weight: "bold"});
txt("tSNE1", 567, 863.3, {size: 11});
txt("tSNE2", 425.2, 730, {size: 11, rotate: -90});
txt("Risk", 710.3, 704, {size: 10.5, anchor: "start"});
dotKey(718.3, 722, RED); txt("high", 732, 722, {size: 8.6, anchor: "start", color: "#222"});
dotKey(718.3, 738, BLUE); txt("low", 732, 738, {size: 8.6, anchor: "start", color: "#222"});
</script></body></html>
